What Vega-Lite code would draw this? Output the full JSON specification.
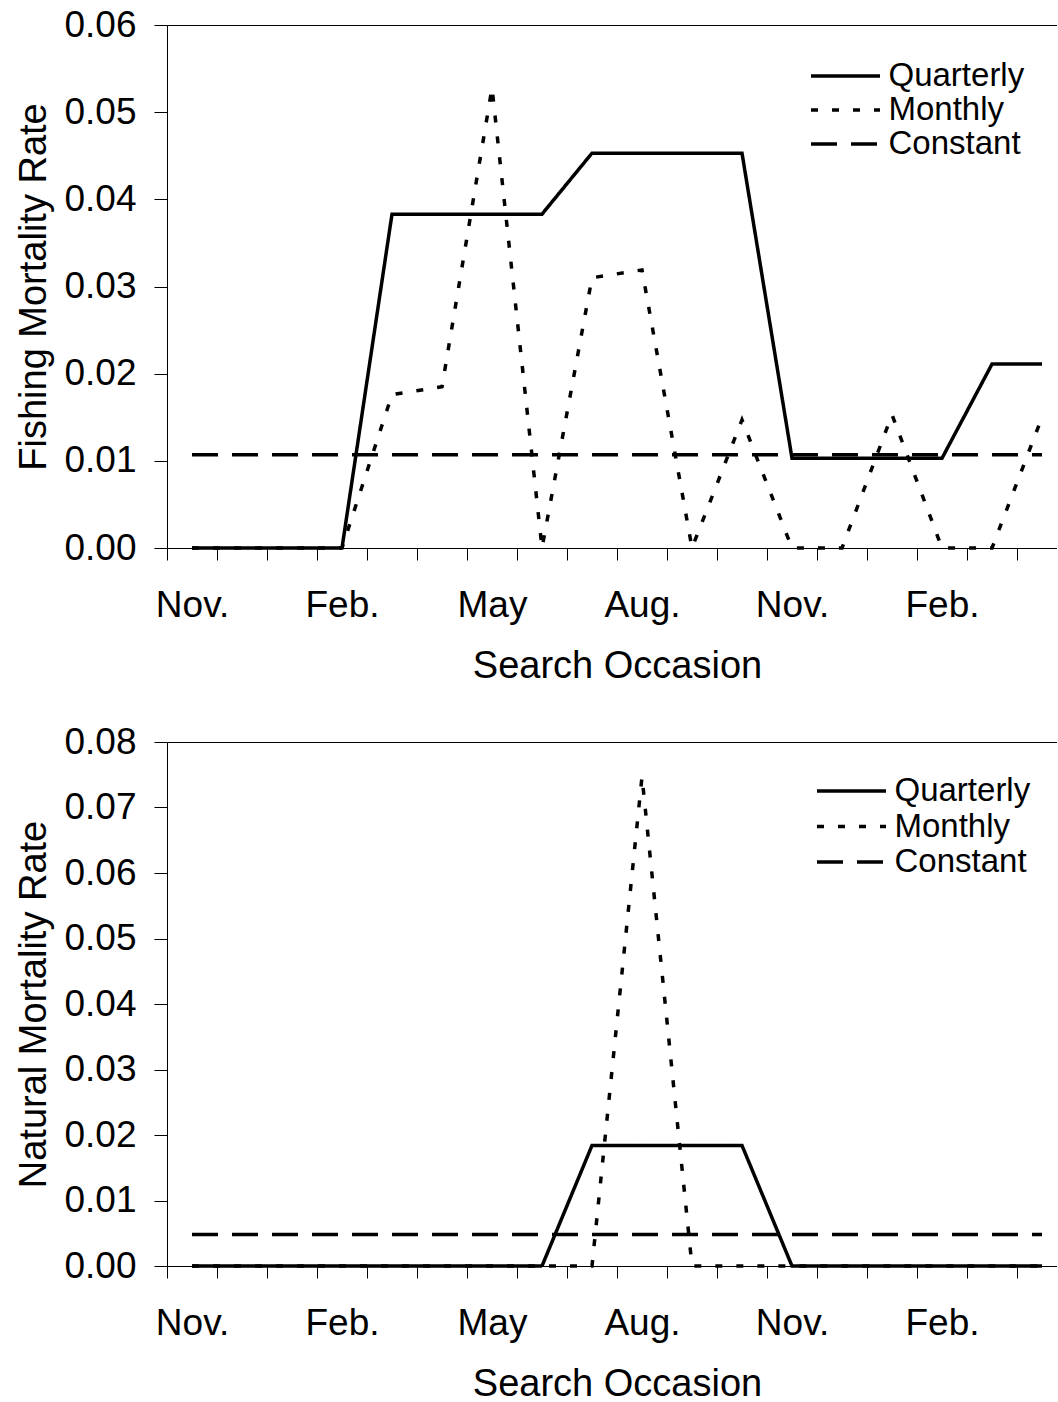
{
  "$schema": "https://vega.github.io/schema/vega-lite/v6.json",
  "background": "white",
  "padding": {"left": 15, "top": 6, "right": 0, "bottom": 0},
  "config": {
    "font": "Liberation Sans",
    "view": {"stroke": null},
    "axis": {
      "labelFont": "Liberation Sans", "titleFont": "Liberation Sans",
      "labelColor": "black", "titleColor": "black",
      "domainColor": "black", "tickColor": "black",
      "labelFontSize": 37, "titleFontSize": 38, "titleFontWeight": "normal",
      "grid": false, "domainWidth": 1, "tickWidth": 1
    },
    "legend": {
      "labelFont": "Liberation Sans", "labelFontSize": 33, "labelColor": "black",
      "symbolType": "stroke", "symbolStrokeWidth": 3.5, "symbolSize": 4761,
      "symbolStrokeColor": "black", "labelOffset": 6.5, "clipHeight": 32, "padding": 0
    },
    "line": {"color": "black", "strokeWidth": 3.5, "strokeCap": "butt"}
  },
  "data": {"values": [
    {"p":"F","s":"Quarterly","m":0,"v":0},{"p":"F","s":"Quarterly","m":1,"v":0},{"p":"F","s":"Quarterly","m":2,"v":0},{"p":"F","s":"Quarterly","m":3,"v":0},
    {"p":"F","s":"Quarterly","m":4,"v":0.0383},{"p":"F","s":"Quarterly","m":5,"v":0.0383},{"p":"F","s":"Quarterly","m":6,"v":0.0383},{"p":"F","s":"Quarterly","m":7,"v":0.0383},
    {"p":"F","s":"Quarterly","m":8,"v":0.0453},{"p":"F","s":"Quarterly","m":9,"v":0.0453},{"p":"F","s":"Quarterly","m":10,"v":0.0453},{"p":"F","s":"Quarterly","m":11,"v":0.0453},
    {"p":"F","s":"Quarterly","m":12,"v":0.0103},{"p":"F","s":"Quarterly","m":13,"v":0.0103},{"p":"F","s":"Quarterly","m":14,"v":0.0103},{"p":"F","s":"Quarterly","m":15,"v":0.0103},
    {"p":"F","s":"Quarterly","m":16,"v":0.0211},{"p":"F","s":"Quarterly","m":17,"v":0.0211},
    {"p":"F","s":"Monthly","m":0,"v":0},{"p":"F","s":"Monthly","m":1,"v":0},{"p":"F","s":"Monthly","m":2,"v":0},{"p":"F","s":"Monthly","m":3,"v":0},
    {"p":"F","s":"Monthly","m":4,"v":0.0176},{"p":"F","s":"Monthly","m":5,"v":0.0185},{"p":"F","s":"Monthly","m":6,"v":0.0528},{"p":"F","s":"Monthly","m":7,"v":0},
    {"p":"F","s":"Monthly","m":8,"v":0.031},{"p":"F","s":"Monthly","m":9,"v":0.0319},{"p":"F","s":"Monthly","m":10,"v":0},{"p":"F","s":"Monthly","m":11,"v":0.0147},
    {"p":"F","s":"Monthly","m":12,"v":0},{"p":"F","s":"Monthly","m":13,"v":0},{"p":"F","s":"Monthly","m":14,"v":0.0153},{"p":"F","s":"Monthly","m":15,"v":0},
    {"p":"F","s":"Monthly","m":16,"v":0},{"p":"F","s":"Monthly","m":17,"v":0.015},
    {"p":"F","s":"Constant","m":0,"v":0.0107},{"p":"F","s":"Constant","m":1,"v":0.0107},{"p":"F","s":"Constant","m":2,"v":0.0107},{"p":"F","s":"Constant","m":3,"v":0.0107},
    {"p":"F","s":"Constant","m":4,"v":0.0107},{"p":"F","s":"Constant","m":5,"v":0.0107},{"p":"F","s":"Constant","m":6,"v":0.0107},{"p":"F","s":"Constant","m":7,"v":0.0107},
    {"p":"F","s":"Constant","m":8,"v":0.0107},{"p":"F","s":"Constant","m":9,"v":0.0107},{"p":"F","s":"Constant","m":10,"v":0.0107},{"p":"F","s":"Constant","m":11,"v":0.0107},
    {"p":"F","s":"Constant","m":12,"v":0.0107},{"p":"F","s":"Constant","m":13,"v":0.0107},{"p":"F","s":"Constant","m":14,"v":0.0107},{"p":"F","s":"Constant","m":15,"v":0.0107},
    {"p":"F","s":"Constant","m":16,"v":0.0107},{"p":"F","s":"Constant","m":17,"v":0.0107},
    {"p":"N","s":"Quarterly","m":0,"v":0},{"p":"N","s":"Quarterly","m":1,"v":0},{"p":"N","s":"Quarterly","m":2,"v":0},{"p":"N","s":"Quarterly","m":3,"v":0},
    {"p":"N","s":"Quarterly","m":4,"v":0},{"p":"N","s":"Quarterly","m":5,"v":0},{"p":"N","s":"Quarterly","m":6,"v":0},{"p":"N","s":"Quarterly","m":7,"v":0},
    {"p":"N","s":"Quarterly","m":8,"v":0.0184},{"p":"N","s":"Quarterly","m":9,"v":0.0184},{"p":"N","s":"Quarterly","m":10,"v":0.0184},{"p":"N","s":"Quarterly","m":11,"v":0.0184},
    {"p":"N","s":"Quarterly","m":12,"v":0},{"p":"N","s":"Quarterly","m":13,"v":0},{"p":"N","s":"Quarterly","m":14,"v":0},{"p":"N","s":"Quarterly","m":15,"v":0},
    {"p":"N","s":"Quarterly","m":16,"v":0},{"p":"N","s":"Quarterly","m":17,"v":0},
    {"p":"N","s":"Monthly","m":0,"v":0},{"p":"N","s":"Monthly","m":1,"v":0},{"p":"N","s":"Monthly","m":2,"v":0},{"p":"N","s":"Monthly","m":3,"v":0},
    {"p":"N","s":"Monthly","m":4,"v":0},{"p":"N","s":"Monthly","m":5,"v":0},{"p":"N","s":"Monthly","m":6,"v":0},{"p":"N","s":"Monthly","m":7,"v":0},
    {"p":"N","s":"Monthly","m":8,"v":0},{"p":"N","s":"Monthly","m":9,"v":0.0747},{"p":"N","s":"Monthly","m":10,"v":0},{"p":"N","s":"Monthly","m":11,"v":0},
    {"p":"N","s":"Monthly","m":12,"v":0},{"p":"N","s":"Monthly","m":13,"v":0},{"p":"N","s":"Monthly","m":14,"v":0},{"p":"N","s":"Monthly","m":15,"v":0},
    {"p":"N","s":"Monthly","m":16,"v":0},{"p":"N","s":"Monthly","m":17,"v":0},
    {"p":"N","s":"Constant","m":0,"v":0.0048},{"p":"N","s":"Constant","m":1,"v":0.0048},{"p":"N","s":"Constant","m":2,"v":0.0048},{"p":"N","s":"Constant","m":3,"v":0.0048},
    {"p":"N","s":"Constant","m":4,"v":0.0048},{"p":"N","s":"Constant","m":5,"v":0.0048},{"p":"N","s":"Constant","m":6,"v":0.0048},{"p":"N","s":"Constant","m":7,"v":0.0048},
    {"p":"N","s":"Constant","m":8,"v":0.0048},{"p":"N","s":"Constant","m":9,"v":0.0048},{"p":"N","s":"Constant","m":10,"v":0.0048},{"p":"N","s":"Constant","m":11,"v":0.0048},
    {"p":"N","s":"Constant","m":12,"v":0.0048},{"p":"N","s":"Constant","m":13,"v":0.0048},{"p":"N","s":"Constant","m":14,"v":0.0048},{"p":"N","s":"Constant","m":15,"v":0.0048},
    {"p":"N","s":"Constant","m":16,"v":0.0048},{"p":"N","s":"Constant","m":17,"v":0.0048}
  ]},
  "spacing": 38,
  "vconcat": [
    {
      "width": 890, "height": 523,
      "transform": [{"filter": "datum.p == 'F'"}],
      "encoding": {
        "x": {"field": "m", "type": "quantitative", "scale": {"domain": [-0.5, 17.3], "nice": false, "zero": false},
          "axis": {"values": [-0.5,0.5,1.5,2.5,3.5,4.5,5.5,6.5,7.5,8.5,9.5,10.5,11.5,12.5,13.5,14.5,15.5,16.5],
            "labelExpr": "datum.value == -0.5 ? 'Nov.' : datum.value == 2.5 ? 'Feb.' : datum.value == 5.5 ? 'May' : datum.value == 8.5 ? 'Aug.' : datum.value == 11.5 ? 'Nov.' : datum.value == 14.5 ? 'Feb.' : ''",
            "labelOffset": 25, "labelOverlap": false, "labelBound": false, "labelFlush": false,
            "tickSize": 12, "labelPadding": 27, "title": "Search Occasion", "titlePadding": 24, "titleX": 450}},
        "y": {"field": "v", "type": "quantitative", "scale": {"domain": [0, 0.06], "nice": false},
          "axis": {"values": [0,0.01,0.02,0.03,0.04,0.05,0.06], "format": ".2f", "title": "Fishing Mortality Rate",
            "tickSize": 13, "labelPadding": 18, "titlePadding": 10}},
        "strokeDash": {"field": "s", "type": "nominal",
          "scale": {"domain": ["Quarterly", "Monthly", "Constant"], "range": [[1,0],[7,14],[26,14]]},
          "legend": {"orient": "none", "legendX": 642, "legendY": 35, "rowPadding": 1, "title": null}}
      },
      "layer": [
        {"mark": {"type": "line"}, "transform": [{"filter": "datum.s != 'Constant'"}]},
        {"mark": {"type": "line"}, "transform": [{"filter": "datum.s == 'Constant'"}],
          "encoding": {"x": {"field": "m", "type": "quantitative",
            "axis": {"orient": "top", "labels": false, "ticks": false, "title": null, "domain": true}}}}
      ],
      "resolve": {"axis": {"x": "independent"}}
    },
    {
      "width": 890, "height": 524,
      "transform": [{"filter": "datum.p == 'N'"}],
      "encoding": {
        "x": {"field": "m", "type": "quantitative", "scale": {"domain": [-0.5, 17.3], "nice": false, "zero": false},
          "axis": {"values": [-0.5,0.5,1.5,2.5,3.5,4.5,5.5,6.5,7.5,8.5,9.5,10.5,11.5,12.5,13.5,14.5,15.5,16.5],
            "labelExpr": "datum.value == -0.5 ? 'Nov.' : datum.value == 2.5 ? 'Feb.' : datum.value == 5.5 ? 'May' : datum.value == 8.5 ? 'Aug.' : datum.value == 11.5 ? 'Nov.' : datum.value == 14.5 ? 'Feb.' : ''",
            "labelOffset": 25, "labelOverlap": false, "labelBound": false, "labelFlush": false,
            "tickSize": 12, "labelPadding": 27, "title": "Search Occasion", "titlePadding": 24, "titleX": 450}},
        "y": {"field": "v", "type": "quantitative", "scale": {"domain": [0, 0.08], "nice": false},
          "axis": {"values": [0,0.01,0.02,0.03,0.04,0.05,0.06,0.07,0.08], "format": ".2f", "title": "Natural Mortality Rate",
            "tickSize": 13, "labelPadding": 18, "titlePadding": 10}},
        "strokeDash": {"field": "s", "type": "nominal",
          "scale": {"domain": ["Quarterly", "Monthly", "Constant"], "range": [[1,0],[7,14],[26,14]]},
          "legend": {"orient": "none", "legendX": 648, "legendY": 33, "rowPadding": 2.5, "title": null}}
      },
      "layer": [
        {"mark": {"type": "line"}, "transform": [{"filter": "datum.s != 'Constant'"}]},
        {"mark": {"type": "line"}, "transform": [{"filter": "datum.s == 'Constant'"}],
          "encoding": {"x": {"field": "m", "type": "quantitative",
            "axis": {"orient": "top", "labels": false, "ticks": false, "title": null, "domain": true}}}}
      ],
      "resolve": {"axis": {"x": "independent"}}
    }
  ],
  "resolve": {"scale": {"strokeDash": "independent"}, "legend": {"strokeDash": "independent"}}
}
